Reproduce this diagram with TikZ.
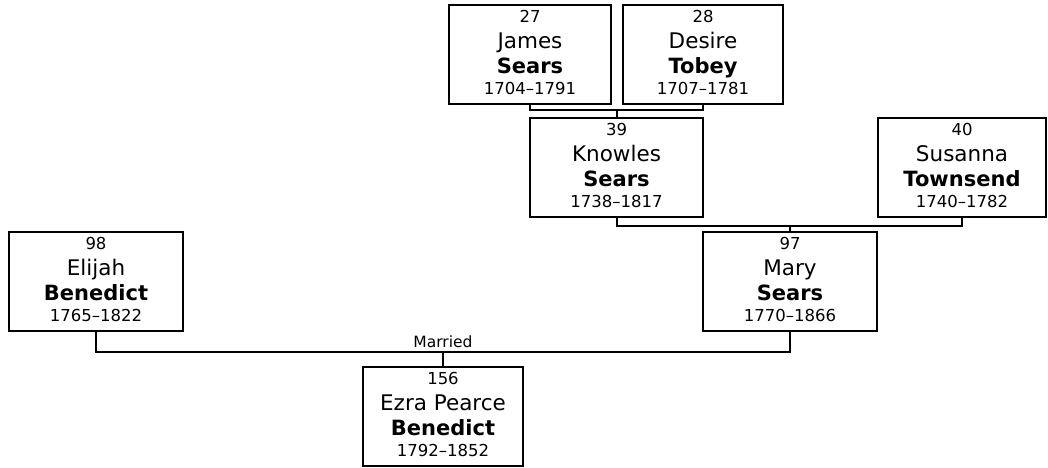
\documentclass[tikz,border=0pt]{standalone}
\usepackage{fontspec}
\setmainfont{DejaVu Sans}
\begin{document}
\begin{tikzpicture}[x=1pt,y=-1pt,
  pbox/.style={draw=black,line width=2pt,rectangle,inner sep=0pt,minimum height=99pt},
  numtxt/.style={anchor=base,inner sep=0pt,font=\fontsize{16.5}{19}\selectfont},
  firsttxt/.style={anchor=base,inner sep=0pt,font=\fontsize{21.5}{25}\selectfont},
  lasttxt/.style={anchor=base,inner sep=0pt,font=\fontsize{21}{25}\selectfont\bfseries},
  datetxt/.style={anchor=base,inner sep=0pt,font=\fontsize{16.5}{19}\selectfont},
  conn/.style={draw=black,line width=2pt},
  lbl/.style={anchor=base,inner sep=0pt,font=\fontsize{15.5}{18}\selectfont}]
\useasboundingbox (0,0) rectangle (1048,467);
\newcommand{\person}[8]{%
  \node[pbox,minimum width=#4] (#1) at (#2,#3+49.5) {};
  \node[numtxt] (#1n) at (#2,#3+17) {#5};
  \node[firsttxt] (#1f) at (#2,#3+43) {#6};
  \node[lasttxt] (#1l) at (#2,#3+68) {#7};
  \node[datetxt] (#1d) at (#2,#3+89) {#8};
}
\person{p27}{530}{5}{162pt}{27}{James}{Sears}{1704\textendash1791}
\person{p28}{703}{5}{160pt}{28}{Desire}{Tobey}{1707\textendash1781}
\person{p39}{616.5}{118}{173pt}{39}{Knowles}{Sears}{1738\textendash1817}
\person{p40}{962}{118}{168pt}{40}{Susanna}{Townsend}{1740\textendash1782}
\person{p97}{790}{232}{174pt}{97}{Mary}{Sears}{1770\textendash1866}
\person{p98}{96}{232}{174pt}{98}{Elijah}{Benedict}{1765\textendash1822}
\person{p156}{443}{367}{160pt}{156}{Ezra Pearce}{Benedict}{1792\textendash1852}
% family 1
\coordinate (u1) at (616.5,109.5);
\draw[conn] (p27.south) |- (u1) -| (p28.south);
\draw[conn] (u1) -- (p39.north);
% family 2
\coordinate (u2) at (790,225.5);
\draw[conn] (p39.south) |- (u2) -| (p40.south);
\draw[conn] (u2) -- (p97.north);
% family 3
\coordinate (u3) at (443,352);
\draw[conn] (p98.south) |- (u3) -| (p97.south);
\draw[conn] (u3) -- (p156.north);
\node[lbl] (mar) at (443,347) {Married};
\end{tikzpicture}
\end{document}
